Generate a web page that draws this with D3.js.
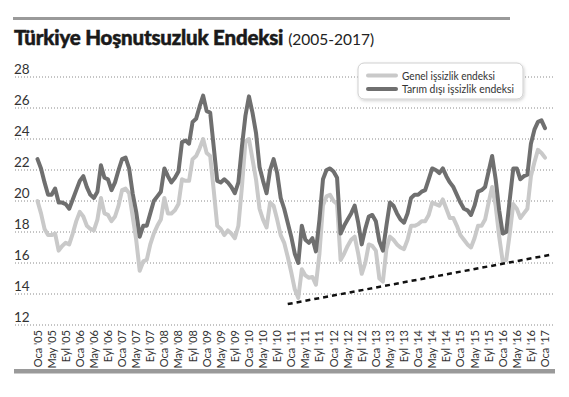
<!DOCTYPE html>
<html>
<head>
<meta charset="utf-8">
<script src="https://cdn.jsdelivr.net/npm/d3@7"></script>
<style>
  body { margin: 0; background: #fff; }
  svg { display: block; font-family: Lato, "Open Sans", sans-serif; }
</style>
</head>
<body>
<div id="chart"></div>
<script>
// aylık veriler, Ocak 2005 - Ocak 2017
const startYear = 2005;
const monthNames = ["Oca", "May", "Eyl"];
const yTicks = [12, 14, 16, 18, 20, 22, 24, 26, 28];

const genel = [
  20.0, 19.2, 18.2, 17.8, 17.8, 17.9, 16.8, 17.1, 17.3, 17.2, 17.9, 18.7,
  19.3, 19.0, 18.4, 18.2, 18.1, 18.8, 20.2, 19.2, 19.1, 18.7, 19.0, 19.7,
  20.7, 20.8, 20.5, 19.0, 17.5, 15.5, 16.1, 16.2, 17.2, 17.9, 18.4, 18.8,
  20.2, 19.2, 19.2, 19.4, 19.8, 21.4, 21.3, 21.3, 22.7, 22.9, 23.4, 24.0,
  23.1, 22.9, 20.7, 18.4, 18.2, 17.8, 18.1, 17.9, 17.6, 18.4, 20.9, 23.85,
  24.0, 22.7, 21.4, 19.5, 18.8, 18.3, 19.9, 19.7, 18.8, 17.8, 17.3, 16.4,
  15.4, 14.3, 13.75, 15.6, 15.2, 15.05, 15.1, 14.6, 16.6, 19.7, 20.3, 20.4,
  20.0, 19.8, 16.2, 16.6, 17.1, 17.5, 17.7, 16.6, 15.3, 16.0, 17.2, 17.1,
  16.8, 15.0, 14.8, 16.9, 17.7, 17.5, 17.2, 17.0, 16.9, 17.5, 18.4, 18.4,
  18.5, 18.7, 18.7, 19.1, 19.9, 19.8, 19.7, 20.1, 19.5, 18.9, 18.9, 18.4,
  17.8, 17.5, 17.2, 17.0, 17.6, 18.4, 18.4, 18.8, 19.9, 20.9, 19.7, 17.7,
  16.1, 16.2, 17.9, 19.8, 19.5, 18.9, 19.2, 19.5, 21.6, 22.5, 23.3, 23.1,
  22.8
];

const tarimDisi = [
  22.7, 22.1, 21.2, 20.4, 20.4, 20.8, 19.9, 19.9, 19.8, 19.5, 20.1, 20.7,
  21.3, 21.6, 20.9, 20.4, 20.2, 20.6, 22.3, 21.5, 21.4, 20.7, 21.2, 22.0,
  22.7, 22.8, 22.1, 20.5, 19.3, 17.7, 18.4, 18.4, 19.2, 20.0, 20.3, 20.6,
  22.1, 21.6, 21.2, 21.5, 21.9, 23.8, 23.9, 23.7, 25.1, 25.3, 26.1, 26.8,
  25.8, 25.7, 23.5, 21.3, 21.2, 21.4, 21.2, 20.9, 20.5, 21.2, 23.5, 25.5,
  26.75, 25.7, 24.4, 22.2, 21.3, 20.5, 22.0, 22.7, 21.8, 20.2, 19.5, 18.6,
  17.7, 16.6, 16.0, 18.4, 17.5, 17.3, 17.6, 16.75, 18.8, 21.4, 22.0, 22.1,
  21.9, 21.5, 17.9, 18.4, 18.8, 19.2, 19.7, 18.6, 17.2, 18.2, 19.0, 19.1,
  18.7, 17.4, 16.8, 18.4, 19.9, 19.7, 19.2, 18.8, 18.6, 19.2, 20.2, 20.4,
  20.4, 20.6, 20.7, 21.4, 22.1, 22.0, 21.8, 22.1, 21.6, 21.2, 20.9, 20.4,
  19.9, 19.5, 19.4, 19.1, 19.7, 20.6, 20.7, 20.9, 21.9, 22.9, 21.4, 19.4,
  17.9, 18.0, 20.1, 22.1, 22.1, 21.4, 21.6, 21.7, 23.7, 24.6, 25.1, 25.2,
  24.7
];

// trend çizgisi (ay indeksi, değer)
const trend = [[71, 13.35], [146, 16.55]];

const seriesNames = ["Genel işsizlik endeksi", "Tarım dışı işsizlik endeksi"];
const seriesColors = ["#c9c9c9", "#6f6f6f"];

//==============================================================================

const width = 569, height = 397;

const svg = d3.select("#chart").append("svg")
    .attr("width", width)
    .attr("height", height);

const x = d3.scaleLinear().domain([0, 144]).range([37.5, 545]);
const y = d3.scaleLinear().domain([12, 28]).range([325, 77]);

// üst çizgi ve başlık
svg.append("line")
    .attr("x1", 13).attr("x2", 510).attr("y1", 18.5).attr("y2", 18.5)
    .attr("stroke", "#9a9a9a").attr("stroke-width", 3);

const title = svg.append("text")
    .attr("x", 14).attr("y", 45)
    .attr("fill", "#1a1a1a");
title.append("tspan")
    .attr("font-size", 20.5).attr("font-weight", 900)
    .attr("letter-spacing", -0.2)
    .attr("stroke", "#1a1a1a").attr("stroke-width", 0.5)
    .text("Türkiye Hoşnutsuzluk Endeksi");
title.append("tspan")
    .attr("dx", 5)
    .attr("font-size", 15.5).attr("fill", "#222")
    .text("(2005-2017)");

// yatay ızgara + y etiketleri
const grid = svg.append("g");
grid.selectAll("line")
  .data(yTicks)
  .join("line")
    .attr("x1", 15).attr("x2", 555)
    .attr("y1", d => y(d)).attr("y2", d => y(d))
    .attr("stroke", "#8a8a8a")
    .attr("stroke-width", 1)
    .attr("stroke-dasharray", "1,2");

grid.selectAll("text")
  .data(yTicks)
  .join("text")
    .attr("x", 14).attr("y", d => y(d) - 3)
    .attr("font-size", 13.5).attr("fill", "#333")
    .text(d => d);

// x etiketleri
const xTicks = d3.range(0, 145, 4);
svg.append("g").selectAll("text")
  .data(xTicks)
  .join("text")
    .attr("transform", d => `translate(${x(d) + 4},330) rotate(-90)`)
    .attr("text-anchor", "end")
    .attr("font-size", 11).attr("fill", "#333")
    .text(d => monthNames[(d % 12) / 4] + " '" + String((startYear + Math.floor(d / 12)) % 100).padStart(2, "0"));

// alt gri bant
svg.append("rect")
    .attr("x", 14).attr("y", 369).attr("width", 541).attr("height", 4.5)
    .attr("fill", "#9a9a9a");

// seriler
const line = d3.line()
    .x((d, i) => x(i))
    .y(d => y(d));

[genel, tarimDisi].forEach((s, k) => {
  svg.append("path")
      .datum(s)
      .attr("fill", "none")
      .attr("stroke", seriesColors[k])
      .attr("stroke-width", 4)
      .attr("stroke-linejoin", "round")
      .attr("stroke-linecap", "round")
      .attr("d", line);
});

svg.append("path")
    .datum(trend)
    .attr("fill", "none")
    .attr("stroke", "#111")
    .attr("stroke-width", 2.5)
    .attr("stroke-dasharray", "5,4")
    .attr("d", d3.line().x(d => x(d[0])).y(d => y(d[1])));

// lejant
const defs = svg.append("defs");
const f = defs.append("filter").attr("id", "sh").attr("x", "-10%").attr("y", "-20%").attr("width", "130%").attr("height", "150%");
f.append("feDropShadow").attr("dx", 1).attr("dy", 1.5).attr("stdDeviation", 1.5).attr("flood-color", "#000").attr("flood-opacity", 0.18);

const legend = svg.append("g");
legend.append("rect")
    .attr("x", 358).attr("y", 63).attr("width", 165).attr("height", 36).attr("rx", 6)
    .attr("fill", "#fff").attr("stroke", "#cfcfcf").attr("stroke-width", 1)
    .attr("filter", "url(#sh)");

const legendWidths = [93, 112];
seriesNames.forEach((name, k) => {
  const ly = 75.5 + k * 13.5;
  legend.append("line")
      .attr("x1", 368).attr("x2", 396).attr("y1", ly).attr("y2", ly)
      .attr("stroke", seriesColors[k]).attr("stroke-width", 4).attr("stroke-linecap", "round");
  legend.append("text")
      .attr("x", 402).attr("y", ly + 4)
      .attr("font-size", 11).attr("fill", "#333")
      .attr("textLength", legendWidths[k]).attr("lengthAdjust", "spacingAndGlyphs")
      .text(name);
});
</script>
</body>
</html>
